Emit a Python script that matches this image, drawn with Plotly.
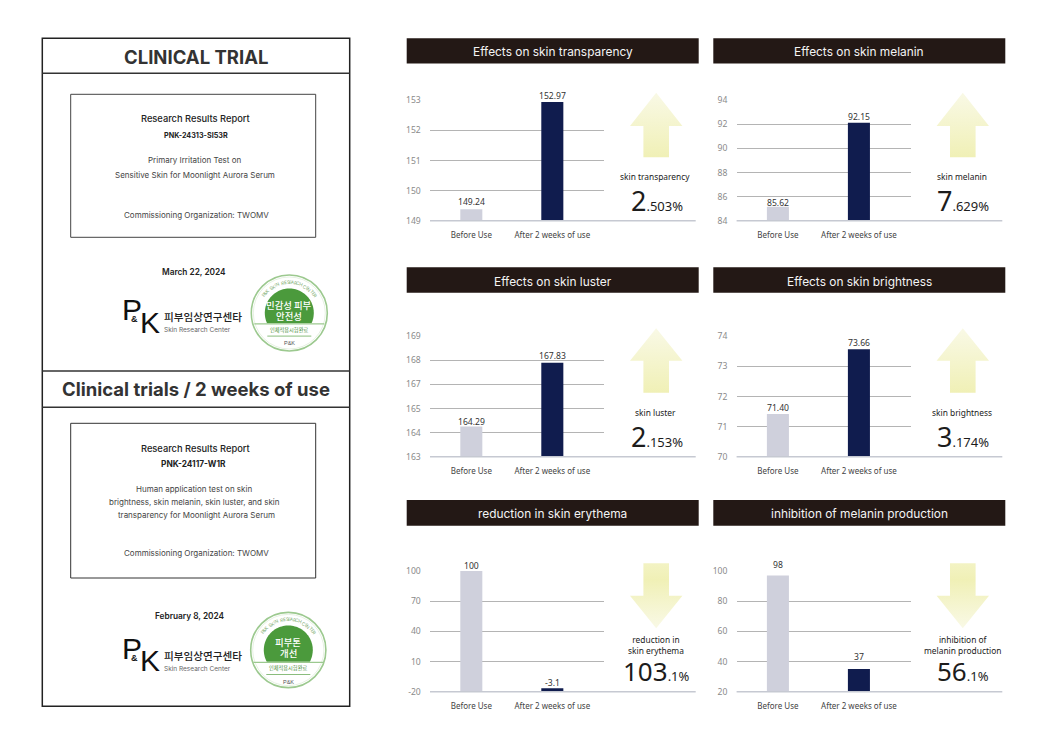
import numpy as np
import plotly.graph_objects as go

W, H = 1057, 748

# ---------- data ----------
categories = ["Before Use", "After 2 weeks of use"]

titles = ["Effects on skin transparency", "Effects on skin melanin",
          "Effects on skin luster", "Effects on skin brightness",
          "reduction in skin erythema", "inhibition of melanin production"]

y_ticks = [[149, 150, 151, 152, 153],
           [84, 86, 88, 90, 92, 94],
           [163, 164, 165, 167, 168, 169],
           [70, 71, 72, 73, 74],
           [-20, 10, 40, 70, 100],
           [20, 40, 60, 80, 100]]

# printed value labels
before_labels = ["149.24", "85.62", "164.29", "71.40", "100", "98"]
after_labels = ["152.97", "92.15", "167.83", "73.66", "-3.1", "37"]

# bar heights as they read against each chart's axis
before_values = [149.38, 85.16, 164.25, 71.42, 100, 97]
after_values = [152.94, 92.14, 167.9, 73.57, -16.5, 35]

side_labels = ["skin transparency", "skin melanin", "skin luster", "skin brightness",
               "reduction in<br>skin erythema", "inhibition of<br>melanin production"]
side_big = ["2", "7", "2", "3", "103", "56"]
side_small = [".503%", ".629%", ".153%", ".174%", ".1%", ".1%"]
arrow_up = [True, True, True, True, False, False]

# ---------- layout helpers (pixels) ----------
col_dx = [0, 306.6]
row_geo = [dict(head=(38.3, 63.4), top=100.3, bot=220.7, label=176.5, big=212.7, arrow=(92.7, 126, 157.3)),
           dict(head=(267.3, 292.7), top=336.3, bot=456.7, label=412.5, big=448.7, arrow=(328.3, 360.7, 392.7)),
           dict(head=(500, 525.7), top=571, bot=691.7, label=645, big=683.3, arrow=(563.3, 595.7, 628.3))]
label_shift = [[7, 6], [4, 6], [5, 7], [6, 6], [5, 5], [11, 12.5]]

INK = "#2b2b2b"
GRID = "#b4b4b4"
BASE = "#c6c9d2"
GREEN = "#4b9a3c"
RING = "#9cc98f"
SANS = "Noto Sans"
UI = "Inter"

fig = go.Figure()
shapes, annotations = [], []


def note(x, y, text, size, color=INK, font=UI, weight=400, **kw):
    annotations.append(dict(x=x, y=y, xref="x7", yref="y7", text=text, showarrow=False,
                            xanchor=kw.pop("xanchor", "center"), yanchor="middle",
                            font=dict(family=font, size=size, color=color, weight=weight), **kw))


def rect(x0, y0, x1, y1, line=None, lw=1, fill=None):
    shapes.append(dict(type="rect", xref="x7", yref="y7", x0=x0, y0=y0, x1=x1, y1=y1, layer="below",
                       line=dict(color=line or "rgba(0,0,0,0)", width=lw if line else 0),
                       fillcolor=fill or "rgba(0,0,0,0)"))


def hline(x0, x1, y, color, lw):
    shapes.append(dict(type="line", xref="x7", yref="y7", x0=x0, x1=x1, y0=y, y1=y, layer="below",
                       line=dict(color=color, width=lw)))


# ---------- overlay pixel axes ----------
layout_axes = dict(
    xaxis7=dict(domain=[0, 1], range=[0, W], visible=False, fixedrange=True, anchor="y7"),
    yaxis7=dict(domain=[0, 1], range=[H, 0], visible=False, fixedrange=True, anchor="x7"),
)

# ---------- six bar charts ----------
for i in range(6):
    row, col = i // 2, i % 2
    g, dx = row_geo[row], col_dx[col]
    n = i + 1
    ticks = y_ticks[i]
    idx = list(range(len(ticks)))
    pos = np.interp([before_values[i], after_values[i]], ticks, idx)

    fig.add_trace(go.Bar(x=categories, y=pos, xaxis=f"x{n}", yaxis=f"y{n}", width=0.272,
                         marker=dict(color=["#cfd0dc", "#101c4e"], line=dict(width=0)),
                         showlegend=False, hoverinfo="skip"))

    layout_axes[f"xaxis{n}"] = dict(domain=[(430 + dx) / W, (604 + dx) / W], anchor=f"y{n}",
                                    range=[-0.51, 1.638], type="category", categoryorder="array",
                                    categoryarray=categories, showgrid=False, showline=False, zeroline=False,
                                    ticks="outside", ticklen=7, tickcolor="rgba(0,0,0,0)", fixedrange=True,
                                    tickfont=dict(family=SANS, size=8, color="#444444"))
    layout_axes[f"yaxis{n}"] = dict(domain=[1 - g["bot"] / H, 1 - g["top"] / H], anchor=f"x{n}",
                                    range=[0, len(ticks) - 1], tickvals=idx, ticktext=[str(t) for t in ticks],
                                    showgrid=True, gridcolor=GRID, gridwidth=1, zeroline=False, showline=False,
                                    ticks="outside", ticklen=6.5, tickcolor="rgba(0,0,0,0)", fixedrange=True,
                                    tickfont=dict(family=SANS, size=8.6, color="#8a8a8a"))

    for c, lab, p, sh in zip(categories, (before_labels[i], after_labels[i]), pos, label_shift[i]):
        annotations.append(dict(x=c, y=p, xref=f"x{n}", yref=f"y{n}", text=lab, showarrow=False,
                                yanchor="middle", yshift=sh,
                                font=dict(family=SANS, size=8.6, color="#333333")))

    # header band
    rect(406.7 + dx, g["head"][0], 698.7 + dx, g["head"][1], fill="#231815")
    note(552.7 + dx, sum(g["head"]) / 2 + 1, titles[i], 11.9, color="#f4f4f4", font=UI)
    # long baseline
    hline(430 + dx, 695.7 + dx, g["bot"], BASE, 1.4)

    # gradient arrow
    cx = 656.2 + dx
    a, b, c_ = g["arrow"]
    if arrow_up[i]:
        ax = [cx, cx + 26.2, cx + 12.8, cx + 12.8, cx - 12.8, cx - 12.8, cx - 26.2, cx]
        ay = [a, b, b, c_, c_, b, b, a]
        scale = [[0, "#f0f0b6"], [1, "#f9f9e6"]]
    else:
        ax = [cx - 12.8, cx + 12.8, cx + 12.8, cx + 26.2, cx, cx - 26.2, cx - 12.8, cx - 12.8]
        ay = [a, a, b, b, c_, b, b, a]
        scale = [[0, "#f9f9e6"], [0.75, "#f0f0b6"], [1, "#f3f3c4"]]
    fig.add_trace(go.Scatter(x=ax, y=ay, xaxis="x7", yaxis="y7", mode="lines", fill="toself",
                             line=dict(width=0), showlegend=False, hoverinfo="skip",
                             fillgradient=dict(type="vertical", colorscale=scale)))

    # side captions
    if "<br>" in side_labels[i]:
        annotations.append(dict(x=cx, y=g["label"], xref="x7", yref="y7", text=side_labels[i], showarrow=False,
                                yanchor="middle", align="center",
                                font=dict(family=SANS, size=8.4, color="#222222")))
    else:
        note(cx - 1, g["label"], side_labels[i], 8.4, color="#222222", font=SANS)
    big_size = 26 if len(side_big[i]) > 1 else 27
    annotations.append(dict(x=cx + 0.5, y=g["big"], xref="x7", yref="y7", yanchor="bottom", yshift=-8,
                            text=f'{side_big[i]}<span style="font-size:13px">{side_small[i]}</span>',
                            showarrow=False, font=dict(family=SANS, size=big_size, color="#1c1c1c")))

# ---------- left panel ----------
rect(42.3, 38.3, 349.7, 706.3, line="#222222", lw=1.5)
for yy in (73.3, 371, 407.3):
    hline(42.3, 349.7, yy, "#333333", 1.5)
rect(70.7, 94.3, 315.7, 237.3, line="#444444", lw=1)
rect(70.7, 423.3, 315.7, 578, line="#333333", lw=1)

note(195.5, 56.7, "CLINICAL TRIAL", 18.5, color="#333333", weight=700)
note(195.5, 389.3, "Clinical trials / 2 weeks of use", 18.5, color="#333333", weight=700)

note(195.7, 118.3, "Research Results Report", 9.3, color="#222222", weight=500)
note(195.7, 135.3, "PNK-24313-SI53R", 7.2, color="#222222", weight=700)
note(194.3, 159.7, "Primary Irritation Test on", 8, color="#444444")
note(195, 175, "Sensitive Skin for Moonlight Aurora Serum", 8, color="#444444")
note(196, 214.7, "Commissioning Organization: TWOMV", 8, color="#444444")
note(193.7, 271.7, "March 22, 2024", 8.3, color="#222222", weight=600)

note(195.7, 448.7, "Research Results Report", 9.3, color="#222222", weight=500)
note(193.7, 463.7, "PNK-24117-W1R", 8.3, color="#222222", weight=700)
note(194.3, 489.3, "Human application test on skin", 8, color="#444444")
note(194.7, 502, "brightness, skin melanin, skin luster, and skin", 8, color="#444444")
note(196.3, 514.7, "transparency for Moonlight Aurora Serum", 8, color="#444444")
note(196, 553.3, "Commissioning Organization: TWOMV", 8, color="#444444")
note(190, 616, "February 8, 2024", 8.3, color="#222222", weight=600)

# logos
for dy in (0, 338.5):
    note(131.5, 309.5 + dy, "P", 30, color="#111111", font="Liberation Sans")
    note(134.5, 319 + dy, "&amp;", 9, color="#111111", font="Liberation Sans", weight=700)
    note(150, 322 + dy, "K", 30, color="#111111", font="Liberation Sans")
    note(161.5, 316.7 + dy, "피부임상연구센타", 10.6, color="#222222", font="Noto Sans CJK KR", weight=500, xanchor="left")
    note(161.5, 330.3 + dy, "Skin Research Center", 6.5, color="#666666", font=UI, xanchor="left")


# stamps
def stamp(cx, cy, r, top_line, bottom_line, chord):
    shapes.append(dict(type="circle", xref="x7", yref="y7", x0=cx - r, x1=cx + r, y0=cy - r, y1=cy + r,
                       layer="below", line=dict(color=RING, width=1.6), fillcolor="#ffffff"))
    shapes.append(dict(type="circle", xref="x7", yref="y7", x0=cx - r + 2, x1=cx + r - 2, y0=cy - r + 2,
                       y1=cy + r - 2, layer="below", line=dict(color="#d6e8d0", width=0.6)))
    rd = 24.5
    start = np.arcsin((chord - cy) / rd)
    th = np.linspace(np.pi - start, 2 * np.pi + start, 70)
    pts = " L".join(f"{cx + rd * np.cos(t):.2f},{cy + rd * np.sin(t):.2f}" for t in th)
    shapes.append(dict(type="path", xref="x7", yref="y7", path=f"M{pts} Z", layer="below",
                       fillcolor=GREEN, line=dict(width=0)))
    hline(cx - 35, cx + 35, chord + 0.6, RING, 1.3)
    hline(cx - 22, cx + 22, chord + 12.8, "#7db56e", 0.9)
    note(cx, cy - 8, top_line, 9.4, color="#ffffff", font="Noto Sans CJK KR", weight=500)
    note(cx, cy + 3, bottom_line, 9.4, color="#ffffff", font="Noto Sans CJK KR", weight=500)
    note(cx, chord + 6.5, "인체적용시험완료", 5.2, color="#3f8a35", font="Noto Sans CJK KR")
    note(cx, chord + 20, "P&amp;K", 5.5, color="#555555", font="Liberation Sans")
    ring_text = "P&K SKIN RESEARCH CENTER"
    angs = np.linspace(-56, 56, len(ring_text))
    for ch, ang in zip(ring_text, angs):
        if ch == " ":
            continue
        t = np.radians(ang)
        note(cx + 30.5 * np.sin(t), cy - 30.5 * np.cos(t), "&amp;" if ch == "&" else ch, 4.6,
             color="#7fae74", font=UI, textangle=float(ang))


stamp(289.3, 313, 38, "민감성 피부", "안전성", 323.3)
stamp(288.3, 650, 37.6, "피부톤", "개선", 661.7)

fig.update_layout(width=W, height=H, margin=dict(l=0, r=0, t=0, b=0, pad=0, autoexpand=False),
                  paper_bgcolor="white", plot_bgcolor="rgba(0,0,0,0)", showlegend=False,
                  barmode="overlay", hovermode=False, shapes=shapes, annotations=annotations,
                  font=dict(family=SANS), **layout_axes)

fig.write_html("out.html", config=dict(displayModeBar=False),
               post_script="document.body.style.margin='0';document.body.style.overflow='hidden';")
